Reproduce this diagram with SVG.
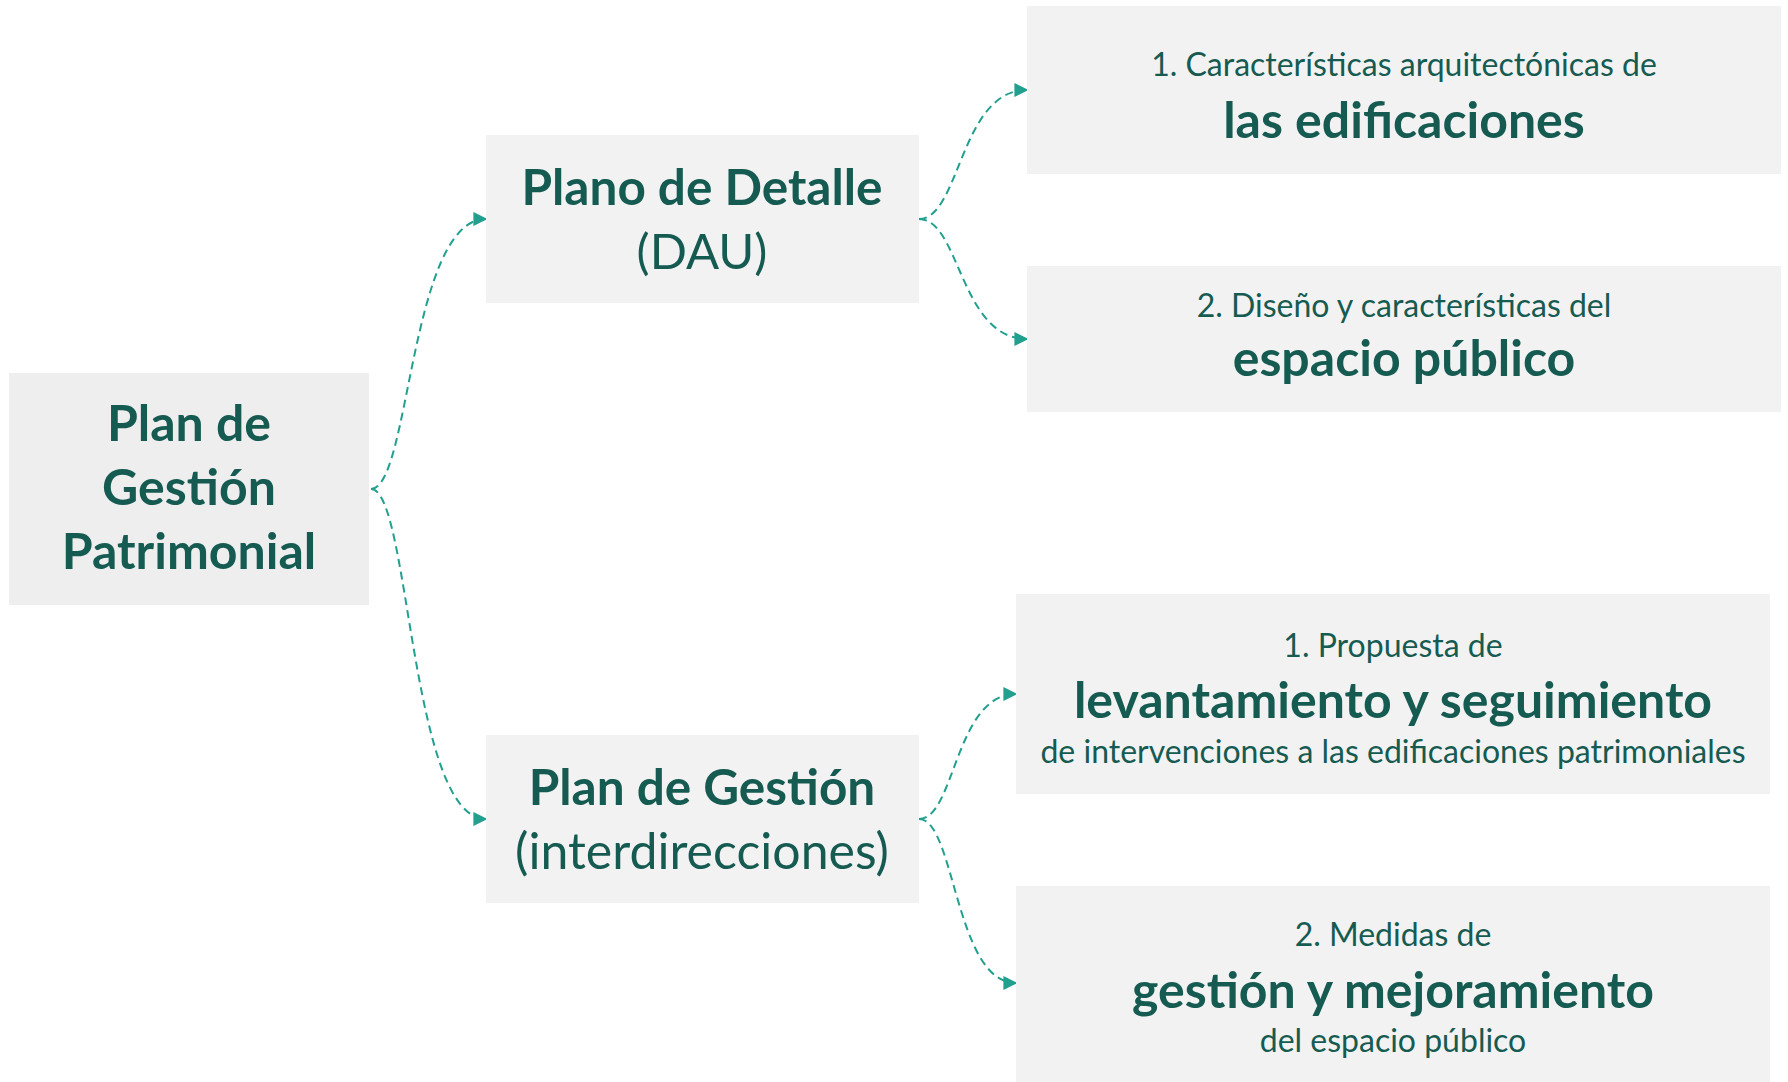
<svg xmlns="http://www.w3.org/2000/svg" width="1788" height="1082" viewBox="0 0 1788 1082">
<defs>
<style>
.box{fill:#F2F2F2}
.box0{fill:#EEEEEE}
text{font-family:Lato,"Open Sans","Liberation Sans",sans-serif;fill:#165B51;text-anchor:middle}
.b{font-weight:700}
.conn{fill:none;stroke:#22A08F;stroke-width:2;stroke-dasharray:8 5}
</style>
<marker id="ah" viewBox="0 0 10 10" refX="9" refY="5" markerWidth="7" markerHeight="7" markerUnits="strokeWidth" orient="auto">
<path d="M0,0 L10,5 L0,10 z" fill="#22A08F"/>
</marker>
</defs>
<rect width="1788" height="1082" fill="#FFFFFF"/>
<g id="connectors">
<path class="conn" marker-end="url(#ah)" d="M371,489 C410,489 410,219 486,219"/>
<path class="conn" marker-end="url(#ah)" d="M371,489 C410,489 410,819 486,819"/>
<path class="conn" marker-end="url(#ah)" d="M919,219 C960,219 960,90 1027,90"/>
<path class="conn" marker-end="url(#ah)" d="M919,219 C960,219 960,339 1027,339"/>
<path class="conn" marker-end="url(#ah)" d="M919,819 C955,819 955,694 1016,694"/>
<path class="conn" marker-end="url(#ah)" d="M919,819 C955,819 955,983 1016,983"/>
</g>
<g id="node-plan-gestion-patrimonial">
<rect class="box0" x="9" y="373" width="360" height="232"/>
<text class="b" x="189" y="441" font-size="50">Plan de</text>
<text class="b" x="189" y="505" font-size="50">Gestión</text>
<text class="b" x="189" y="569" font-size="50">Patrimonial</text>
</g>
<g id="node-plano-detalle">
<rect class="box" x="486" y="135" width="433" height="168"/>
<text class="b" x="702" y="205" font-size="49.5">Plano de Detalle</text>
<text x="702" y="269" font-size="49">(DAU)</text>
</g>
<g id="node-plan-gestion">
<rect class="box" x="486" y="735" width="433" height="168"/>
<text class="b" x="702" y="805" font-size="49.5">Plan de Gestión</text>
<text x="702" y="869" font-size="50">(interdirecciones)</text>
</g>
<g id="node-edificaciones">
<rect class="box" x="1027" y="6" width="754" height="168"/>
<text x="1404" y="76" font-size="32">1. Características arquitectónicas de</text>
<text class="b" x="1404" y="138" font-size="50">las edificaciones</text>
</g>
<g id="node-espacio-publico">
<rect class="box" x="1027" y="266" width="754" height="146"/>
<text x="1404" y="317" font-size="32">2. Diseño y características del</text>
<text class="b" x="1404" y="376" font-size="50">espacio público</text>
</g>
<g id="node-levantamiento">
<rect class="box" x="1016" y="594" width="754" height="200"/>
<text x="1393" y="657" font-size="32">1. Propuesta de</text>
<text class="b" x="1393" y="718" font-size="50">levantamiento y seguimiento</text>
<text x="1393" y="763" font-size="32">de intervenciones a las edificaciones patrimoniales</text>
</g>
<g id="node-gestion-mejoramiento">
<rect class="box" x="1016" y="886" width="754" height="196"/>
<text x="1393" y="946" font-size="32">2. Medidas de</text>
<text class="b" x="1393" y="1008" font-size="50">gestión y mejoramiento</text>
<text x="1393" y="1052" font-size="32">del espacio público</text>
</g>
</svg>
